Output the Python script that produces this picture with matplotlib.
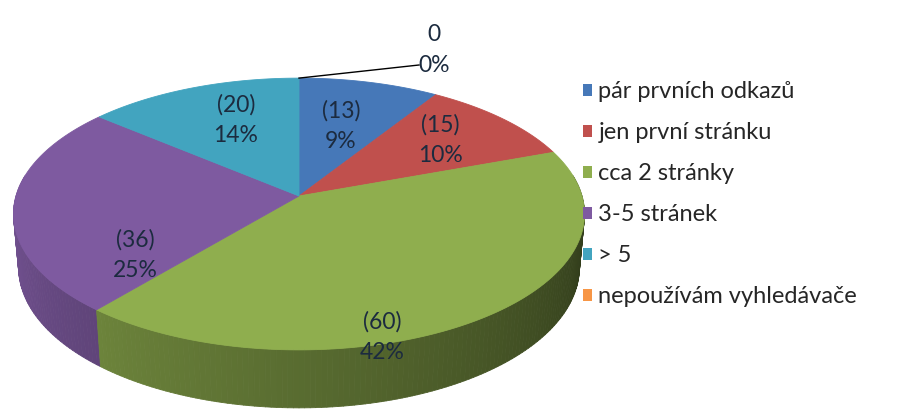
import numpy as np
import matplotlib.pyplot as plt
from matplotlib.patches import Patch
from matplotlib.collections import PolyCollection
from matplotlib.colors import to_rgb

plt.rcParams['font.family'] = ['Lato', 'DejaVu Sans']

categories = ['pár prvních odkazů', 'jen první stránku', 'cca 2 stránky',
              '3-5 stránek', '> 5', 'nepoužívám vyhledávače']
counts = [13, 15, 60, 36, 20, 0]
colors = ['#4678b8', '#c0504d', '#8fae4e', '#7e5aa0', '#42a4bf', '#f79646']

# centre of each two-line slice label, in pixels
label_xy = [(341, 126), (440, 140), (382, 337), (135, 255), (236, 120), (434, 50)]

# 3D view: tilt, camera distance, wall height, screen centre and scale (px)
TILT = np.radians(30)
DIST = 6.54
DEPTH = 0.234
CX, CY = 299, 196
SX, SY = 283, 267


def project(x, y, z):
    d = DIST + y * np.cos(TILT) - z * np.sin(TILT)
    k = DIST / d
    return CX + SX * x * k, CY - SY * (y * np.sin(TILT) + z * np.cos(TILT)) * k


total = sum(counts)
edges = 90 - 360 * np.concatenate([[0], np.cumsum(counts)]) / total

fig = plt.figure(figsize=(8.97, 4.12), dpi=100)
ax = fig.add_axes([0, 0, 1, 1])
ax.set_xlim(0, 897)
ax.set_ylim(412, 0)
ax.axis('off')

# outer wall (front half), lit from the left
strips, shades, depth = [], [], []
for a0, a1, col in zip(edges[:-1], edges[1:], colors):
    if a0 == a1:
        continue
    n = max(int(abs(a0 - a1)), 2)
    phi = np.radians(np.linspace(a0, a1, n + 1))
    rgb = np.array(to_rgb(col))
    for p, q in zip(phi[:-1], phi[1:]):
        m = 0.5 * (p + q)
        if np.sin(m) > 0.15:
            continue
        xs = np.cos([p, q, q, p])
        ys = np.sin([p, q, q, p])
        zs = np.array([0, 0, -DEPTH, -DEPTH])
        px, py = project(xs, ys, zs)
        strips.append(np.column_stack([px, py]))
        t = np.degrees(m) % 360
        if t < 90:
            t += 360
        f = np.clip(0.93 - (t - 180) / 180 * 0.62, 0.33, 0.93)
        shades.append(rgb * f)
        depth.append(np.sin(m))
order = np.argsort(depth)[::-1]
ax.add_collection(PolyCollection([strips[i] for i in order],
                                 facecolors=[shades[i] for i in order],
                                 edgecolors=[shades[i] for i in order],
                                 linewidths=0.6))

# top face
for a0, a1, col in zip(edges[:-1], edges[1:], colors):
    if a0 == a1:
        continue
    phi = np.radians(np.linspace(a0, a1, max(int(abs(a0 - a1)), 2) + 1))
    xs = np.concatenate([[0], np.cos(phi)])
    ys = np.concatenate([[0], np.sin(phi)])
    px, py = project(xs, ys, np.zeros_like(xs))
    ax.fill(px, py, facecolor=col, edgecolor=col, linewidth=0.6)

# labels
for c, (lx, ly) in zip(counts, label_xy):
    pct = round(100 * c / total)
    txt = f'({c})\n{pct}%' if c else f'{c}\n{pct}%'
    ax.text(lx, ly, txt, ha='center', va='center', fontsize=16.5,
            linespacing=1.55, color='#1c2b3f')

# leader line for the empty slice
zi = counts.index(0)
tx, ty = project(np.cos(np.radians(edges[zi])), np.sin(np.radians(edges[zi])), 0)
ax.plot([tx, label_xy[zi][0] - 15], [ty, label_xy[zi][1] + 15],
        color='black', linewidth=1)

handles = [Patch(facecolor=c, edgecolor='none') for c in colors]
ax.legend(handles, categories, loc='upper left', bbox_to_anchor=(583, 81),
          bbox_transform=ax.transData, frameon=False, fontsize=17,
          handlelength=0.4, handleheight=0.4, handletextpad=0.25,
          labelspacing=0.85, borderpad=0, borderaxespad=0,
          labelcolor='#262626')

fig.savefig('out.png', dpi=100)
